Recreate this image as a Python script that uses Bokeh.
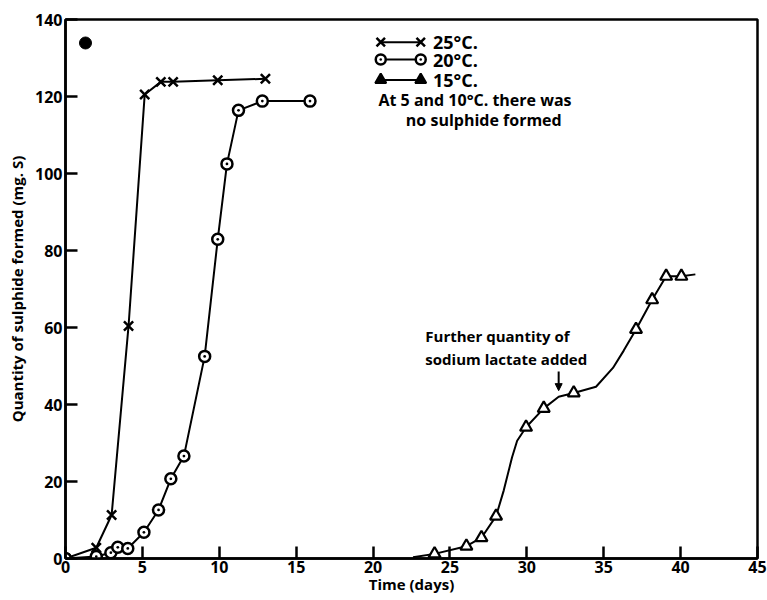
from bokeh.plotting import figure
from bokeh.models import Range1d, FixedTicker, Arrow, NormalHead
from bokeh.embed import file_html
from bokeh.resources import INLINE
from bokeh.core.properties import value

# ---- data ----
t25 = [0, 2.0, 3.0, 4.1, 5.15, 6.2, 7.0, 9.9, 13.0]
s25 = [0, 2.8, 11.3, 60.4, 120.5, 123.8, 123.8, 124.2, 124.6]

t20 = [0, 2.0, 2.95, 3.4, 4.05, 5.1, 6.05, 6.85, 7.7, 9.05, 9.9, 10.5, 11.25, 12.8, 15.9]
s20 = [0, 0.5, 1.5, 2.9, 2.6, 6.8, 12.6, 20.7, 26.6, 52.5, 82.9, 102.5, 116.4, 118.8, 118.8]

t15 = [24.0, 26.07, 27.05, 28.0, 29.95, 31.1, 33.05, 37.1, 38.15, 39.06, 40.05]
s15 = [1.2, 3.2, 5.4, 11.0, 34.1, 39.0, 43.0, 59.5, 67.2, 73.3, 73.3]

# traced path of the drawn 15 C curve
curve15_t = [22.6, 24.0, 26.07, 27.05, 28.0, 28.5, 29.04, 29.37, 29.95, 31.1, 32.07,
             33.05, 34.5, 35.6, 36.3, 37.1, 38.15, 39.06, 40.05, 40.96]
curve15_s = [0.3, 1.2, 3.2, 5.4, 11.0, 17.7, 26.3, 30.6, 34.1, 39.0, 42.0,
             43.0, 44.6, 49.5, 54.0, 59.5, 67.2, 73.3, 73.3, 73.8]

x_ticks = [0, 5, 10, 15, 20, 25, 30, 35, 40, 45]
y_ticks = [0, 20, 40, 60, 80, 100, 120, 140]

legend_labels = ["25\u00b0C.", "20\u00b0C.", "15\u00b0C."]
note_lines = ["At 5 and 10\u00b0C. there was", "no sulphide formed"]
annot_lines = ["Further quantity of", "sodium lactate added"]
lactate_day = 32.07

FONT = "Open Sans"

p = figure(width=767, height=600, output_backend="svg", toolbar_location=None,
           x_range=Range1d(0, 45), y_range=Range1d(0, 140),
           min_border_left=65, min_border_right=10, min_border_top=19,
           min_border_bottom=42)
p.grid.visible = False
p.background_fill_color = "white"
p.border_fill_color = "white"
p.outline_line_color = "black"
p.outline_line_width = 2.5

for ax in (p.xaxis[0], p.yaxis[0]):
    ax.axis_line_width = 2.5
    ax.axis_line_color = "black"
    ax.major_tick_line_width = 2.5
    ax.major_tick_in = 12
    ax.major_tick_out = 0
    ax.minor_tick_line_color = None
    ax.major_label_text_font = FONT
    ax.major_label_text_font_style = "bold"
    ax.major_label_text_font_size = "16px"
    ax.major_label_text_color = "black"
    ax.axis_label_text_font = FONT
    ax.axis_label_text_font_style = "bold"
    ax.axis_label_text_font_size = "15px"
    ax.axis_label_text_color = "black"

p.xaxis.ticker = FixedTicker(ticks=x_ticks)
p.yaxis.ticker = FixedTicker(ticks=y_ticks)
p.xaxis.major_label_standoff = 2
p.yaxis.major_label_standoff = 3
p.xaxis.axis_label = "Time (days)"
p.yaxis.axis_label = "Quantity of sulphide formed (mg. S)"
p.xaxis.axis_label_standoff = -2
p.yaxis.axis_label_standoff = 5

# curves
p.line(t25, s25, line_color="black", line_width=2)
p.line(t20, s20, line_color="black", line_width=2)
p.line(curve15_t, curve15_s, line_color="black", line_width=2)

# markers
p.scatter(t25, s25, marker="x", size=13, line_color="black", line_width=2.5)
p.scatter(t20, s20, marker="circle_dot", size=11, line_color="black",
          fill_color="white", line_width=2.5)
p.scatter(t15, s15, marker="triangle", size=12, line_color="black",
          fill_color="white", line_width=2.2)

# legend (drawn by hand, marker-line-marker)
ly = [134.1, 129.6, 124.3]
lx0, lx1, ltx = 20.5, 23.1, 23.9
p.segment([lx0] * 3, ly, [lx1] * 3, ly, line_color="black", line_width=2)
p.scatter([lx0, lx1], [ly[0]] * 2, marker="x", size=12, line_color="black", line_width=2.5)
p.scatter([lx0, lx1], [ly[1]] * 2, marker="circle_dot", size=10, line_color="black",
          fill_color="white", line_width=2.5)
p.scatter([lx0, lx1], [ly[2]] * 2, marker="triangle", size=11, line_color="black",
          fill_color="black", line_width=2)
p.text([ltx] * 3, ly, text=legend_labels, text_font=value(FONT), text_font_style="bold",
       text_font_size="18px", text_baseline="middle", text_align="left", text_color="black")
p.text([20.35], [119.1], text=[note_lines[0]], text_font=value(FONT), text_font_style="bold",
       text_font_size="16px", text_baseline="middle", text_align="left", text_color="black")
p.text([27.2], [113.8], text=[note_lines[1]], text_font=value(FONT), text_font_style="bold",
       text_font_size="16px", text_baseline="middle", text_align="center", text_color="black")

# annotation
p.text([23.4, 23.4], [57.7, 51.9], text=annot_lines, text_font=value(FONT),
       text_font_style="bold", text_font_size="15px", text_baseline="middle",
       text_align="left", text_color="black")
p.add_layout(Arrow(end=NormalHead(size=7, fill_color="black", line_color="black"),
                   x_start=lactate_day, y_start=48.6, x_end=lactate_day, y_end=43.6,
                   line_width=2, line_color="black"))

# filled spot in the top-left corner of the original
p.scatter([1.3], [133.9], marker="circle", size=12, fill_color="black", line_color="black")

open("out.html", "w").write(file_html(p, INLINE))
